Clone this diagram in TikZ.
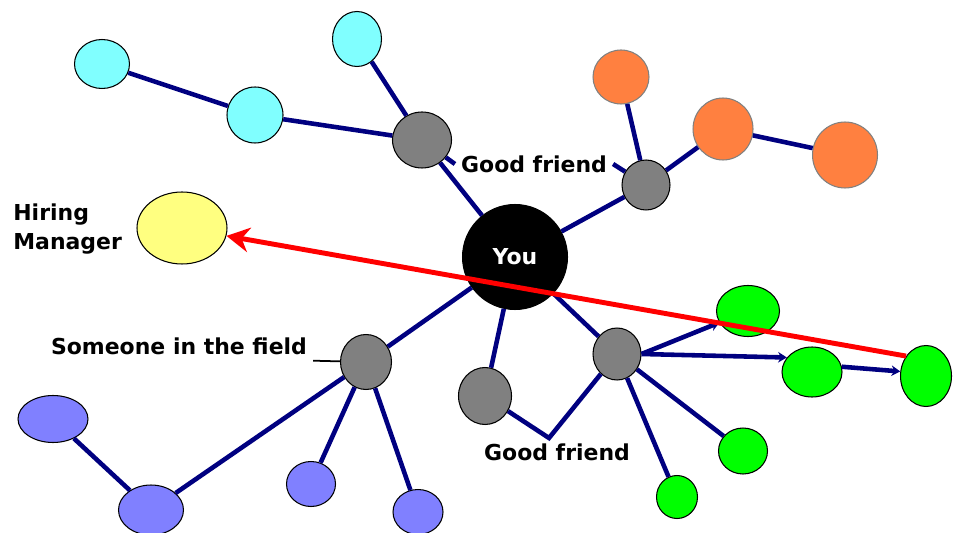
\documentclass[tikz,border=0pt]{standalone}
\usepackage{fontspec}
\usetikzlibrary{shapes.geometric, arrows.meta, positioning, calc}
\newfontfamily\netfont{DejaVu Sans}
\definecolor{netnavy}{HTML}{000080}
\definecolor{netcyan}{HTML}{80FFFF}
\definecolor{netgray}{HTML}{808080}
\definecolor{netorange}{HTML}{FF8040}
\definecolor{netyellow}{HTML}{FFFF80}
\definecolor{netblue}{HTML}{8080FF}
\definecolor{netgreen}{HTML}{00FF00}
\definecolor{netred}{HTML}{FF0000}

\begin{document}
\begin{tikzpicture}[
  x=0.02cm, y=-0.02cm,
  contact/.style={
    ellipse, inner sep=0pt,
    draw=black, line width=0.6pt, fill=#1
  },
  dims/.style 2 args={minimum width=#1*0.2mm, minimum height=#2*0.2mm},
  link/.style={draw=netnavy, line width=2.6pt},
  reach/.style={link, -{Stealth[length=5pt,width=6pt]}},
  hire/.style={draw=netred, line width=2.8pt, -{Stealth[length=13pt,width=14pt]}},
  lbl/.style={font=\netfont\bfseries\fontsize{12.5}{16.5}\selectfont, text=black}
]
  \useasboundingbox (0,0) rectangle (959,533);

  % You and the people you know
  \node[contact=black, dims={105}{105}, lbl, text=white] (you) at (515,257) {You};
  \node[contact=netgray, dims={59}{56}] (g1) at (422,140) {};
  \node[contact=netgray, dims={48}{50}] (g2) at (646,185) {};
  \node[contact=netgray, dims={51}{55}] (g3) at (366,362) {};
  \node[contact=netgray, dims={53}{57}] (g4) at (485,396) {};
  \node[contact=netgray, dims={48}{52}] (g5) at (617,354) {};

  % Their circles
  \node[contact=netcyan, dims={55}{49}] (c1) at (102,64) {};
  \node[contact=netcyan, dims={56}{56}] (c2) at (255,115) {};
  \node[contact=netcyan, dims={49}{55}] (c3) at (357,39) {};

  \node[contact=netorange, draw=netgray, dims={56}{54}] (o1) at (621,77) {};
  \node[contact=netorange, draw=netgray, dims={60}{62}] (o2) at (723,129) {};
  \node[contact=netorange, draw=netgray, dims={65}{66}] (o3) at (845,155) {};

  \node[contact=netblue, dims={70}{47}] (b1) at (53,419) {};
  \node[contact=netblue, dims={65}{50}] (b2) at (151,510) {};
  \node[contact=netblue, dims={49}{45}] (b3) at (311,484) {};
  \node[contact=netblue, dims={50}{45}] (b4) at (418,512) {};

  \node[contact=netgreen, dims={63}{51}] (gr1) at (748,311) {};
  \node[contact=netgreen, dims={60}{50}] (gr2) at (812,372) {};
  \node[contact=netgreen, dims={51}{61}] (gr3) at (926,376) {};
  \node[contact=netgreen, dims={49}{46}] (gr4) at (743,451) {};
  \node[contact=netgreen, dims={41}{43}] (gr5) at (677,497) {};

  \node[contact=netyellow, dims={90}{72}] (boss) at (182,228) {};

  % Labels
  \node[lbl] (gf1) at (534,164) {Good friend};
  \node[lbl] (gf2) at (557,452) {Good friend};
  \node[lbl] (field) at (179,346) {Someone in the field};
  \node[lbl, align=left, anchor=north west, inner sep=0pt] (hm) at (13,203) {Hiring\\Manager};
  \coordinate (knee) at (549,438);

  % Links
  \draw[link] (c1) -- (c2);
  \draw[link] (c2) -- (g1);
  \draw[link] (c3) -- (g1);
  \draw[link] (g1) -- (you);
  \draw[link] (g2) -- (you);
  \draw[link] (o1) -- (g2);
  \draw[link] (g2) -- (o2);
  \draw[link] (o2) -- (o3);
  \draw[link] (you) -- (g3);
  \draw[link] (g3) -- (b2);
  \draw[link] (g3) -- (b3);
  \draw[link] (g3) -- (b4);
  \draw[link] (b1) -- (b2);
  \draw[link] (you) -- (g4);
  \draw[link] (you) -- (g5);
  \draw[link] (g4) -- (knee) -- (g5);
  \draw[reach] (g5.east) -- (gr1);
  \draw[reach] (g5.east) -- (gr2.150);
  \draw[reach] (gr2.10) -- (gr3.170);
  \draw[link] (g5) -- (gr4);
  \draw[link] (g5) -- (gr5);

  % Label pointers
  \draw[link] (g1) -- (gf1.west);
  \draw[link] (gf1.east) -- (g2);
  \draw[line width=1pt] (field.south east) -- (g3);

  % The way in
  \draw[hire] (gr3.135) -- (boss);
\end{tikzpicture}
\end{document}
